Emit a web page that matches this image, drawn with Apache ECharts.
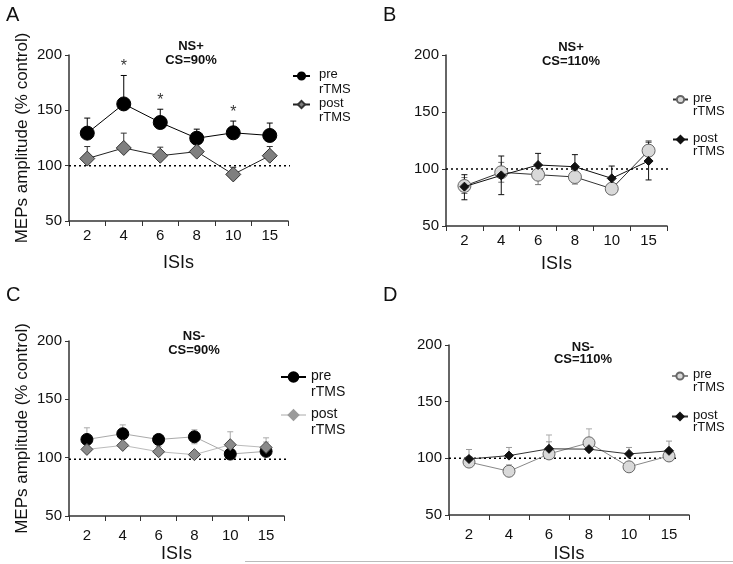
<!DOCTYPE html>
<html><head><meta charset="utf-8">
<script src="https://cdn.jsdelivr.net/npm/echarts@6/dist/echarts.min.js"></script>
<style>html,body{margin:0;padding:0;background:#fff}#c{width:733px;height:564px}</style>
</head><body><div id="c"></div>
<script>
// ---- data ----
const isiLabels = ['2', '4', '6', '8', '10', '15'];
const yMin = 50, yMax = 200, yStep = 50;

// Panel A  (NS+, CS=90%)
const aPre     = [129.4, 155.8, 139.0, 124.8, 129.7, 127.3];
const aPreHi   = [143.0, 181.5, 151.0, 133.0, 140.3, 138.5];
const aPreLo   = [null, null, null, null, null, null];
const aPost    = [106.4, 116.0, 109.0, 112.7, 92.1, 109.0];
const aPostHi  = [117.3, 129.4, 116.7, 120.0, 98.5, 117.3];
const aPostLo  = [null, null, null, null, null, null];
const aSig     = ['', '*', '*', '', '*', ''];

// Panel B  (NS+, CS=110%)
const bPre     = [85.1, 97.1, 95.0, 93.0, 82.7, 116.1];
const bPreHi   = [92.5, 105.8, 103.7, 99.2, 87.4, 124.8];
const bPreLo   = [78.5, 88.4, 86.3, 86.8, 78.0, 107.4];
const bPost    = [84.5, 94.4, 103.5, 102.0, 91.8, 107.0];
const bPostHi  = [95.0, 111.4, 113.7, 112.6, 102.6, 123.6];
const bPostLo  = [73.0, 77.5, 93.3, 91.4, 81.0, 90.4];

// Panel C  (NS-, CS=90%)
const cPre     = [115.6, 120.5, 115.6, 117.9, 103.1, 105.4];
const cPreHi   = [125.6, 128.1, 118.5, 123.9, null, 113.4];
const cPreLo   = [null, null, null, 111.9, null, null];
const cPost    = [107.1, 110.5, 105.1, 102.6, 111.1, 108.8];
const cPostHi  = [null, null, 109.5, null, 122.2, 117.0];
const cPostLo  = [null, null, null, null, null, null];

// Panel D  (NS-, CS=110%)
const dPre     = [96.7, 88.6, 103.9, 113.7, 92.5, 102.1];
const dPreHi   = [null, 94.3, 120.6, 126.0, null, null];
const dPreLo   = [null, null, null, null, null, null];
const dPost    = [99.4, 102.4, 108.4, 108.1, 103.9, 106.6];
const dPostHi  = [107.8, 109.6, 114.6, null, 109.6, 115.2];
const dPostLo  = [null, null, null, null, null, null];

const refLevel = [100, 100, 98.6, 100];
const panelTitles = ['NS+\nCS=90%', 'NS+\nCS=110%', 'NS-\nCS=90%', 'NS-\nCS=110%'];
const panelLetters = ['A', 'B', 'C', 'D'];
const yTitle = 'MEPs amplitude (% control)';
const xTitle = 'ISIs';
const legendPre = 'pre', legendPost = 'post', legendSub = 'rTMS';

// ---- layout / style ----
const FONT = "'Liberation Sans', Arial, sans-serif";
const P = [
  { grid: {left: 69, top: 55, width: 219, height: 166}, yName: true, xMargin: 7, xNameGap: 33, refEnd: 6.19,
    title: {x: 191, y: 40, lh: 13.5}, letter: {x: 6, y: 5},
    legend: {left: 292, top: 68, gap: 1, iw: 17, ih: 9, fs: 13, h1: 26, h2: 3, pad: 4},
    pre: {sym: 'circle', size: 14, fill: '#000', border: '#000', line: '#000', lw: 1},
    post: {sym: 'diamond', size: 15, fill: '#7f7f7f', border: '#333', line: '#222', lw: 1},
    errPre: '#000', errPost: '#333' },
  { grid: {left: 446, top: 55, width: 221, height: 171}, yName: false, xMargin: 7, xNameGap: 29, refEnd: 6.08,
    title: {x: 571, y: 41, lh: 13.5}, letter: {x: 383, y: 5},
    legend: {left: 672, top: 92, gap: 14, iw: 15, ih: 9, fs: 13, h1: 24, h2: 2, pad: 0},
    pre: {sym: 'circle', size: 13, fill: '#d9d9d9', border: '#666', line: '#333', lw: 1},
    post: {sym: 'diamond', size: 9, fill: '#111', border: '#111', line: '#111', lw: 1},
    errPre: '#777', errPost: '#111' },
  { grid: {left: 69, top: 341, width: 215, height: 176}, yName: true, xMargin: 12, xNameGap: 29, refEnd: 6.3,
    title: {x: 194, y: 329, lh: 14.5}, letter: {x: 6, y: 285},
    legend: {left: 280, top: 369, gap: 8, iw: 25, ih: 12, fs: 14, h1: 30, h2: 2, pad: 0},
    pre: {sym: 'circle', size: 12, fill: '#000', border: '#000', line: '#aaa', lw: 1},
    post: {sym: 'diamond', size: 12, fill: '#8a8a8a', border: '#444', line: '#bbb', lw: 1},
    errPre: '#aaa', errPost: '#aaa',
    legendLine: ['#000', '#aaa'], legendFill: ['#000', '#9a9a9a'] },
  { grid: {left: 449, top: 345, width: 240, height: 170}, yName: false, xMargin: 12, xNameGap: 30, refEnd: 5.69,
    title: {x: 583, y: 341, lh: 12}, letter: {x: 383, y: 285},
    legend: {left: 671, top: 368, gap: 15, iw: 16, ih: 9, fs: 13, h1: 22, h2: 3, pad: 0},
    pre: {sym: 'circle', size: 12, fill: '#d9d9d9', border: '#666', line: '#888', lw: 1},
    post: {sym: 'diamond', size: 9, fill: '#111', border: '#111', line: '#333', lw: 1},
    errPre: '#aaa', errPost: '#999' }
];

const DATA = [
  {pre: aPre, preHi: aPreHi, preLo: aPreLo, post: aPost, postHi: aPostHi, postLo: aPostLo},
  {pre: bPre, preHi: bPreHi, preLo: bPreLo, post: bPost, postHi: bPostHi, postLo: bPostLo},
  {pre: cPre, preHi: cPreHi, preLo: cPreLo, post: cPost, postHi: cPostHi, postLo: cPostLo},
  {pre: dPre, preHi: dPreHi, preLo: dPreLo, post: dPost, postHi: dPostHi, postLo: dPostLo}
];

function errRender(color, cap) {
  return function (params, api) {
    const x = api.value(0), m = api.value(1), lo = api.value(2), hi = api.value(3);
    const pm = api.coord([x, m]), pl = api.coord([x, lo]), ph = api.coord([x, hi]);
    const st = {stroke: color, lineWidth: 1};
    const ch = [{type: 'line', shape: {x1: pm[0], y1: pl[1], x2: pm[0], y2: ph[1]}, style: st}];
    if (hi !== m) ch.push({type: 'line', shape: {x1: pm[0] - cap, y1: ph[1], x2: pm[0] + cap, y2: ph[1]}, style: st});
    if (lo !== m) ch.push({type: 'line', shape: {x1: pm[0] - cap, y1: pl[1], x2: pm[0] + cap, y2: pl[1]}, style: st});
    return {type: 'group', children: ch};
  };
}
function errData(mean, lo, hi) {
  const out = [];
  mean.forEach((m, i) => {
    if (lo[i] == null && hi[i] == null) return;
    out.push([i, m, lo[i] == null ? m : lo[i], hi[i] == null ? m : hi[i]]);
  });
  return out;
}

const grid = [], xAxis = [], yAxis = [], series = [], legend = [], title = [];
P.forEach((p, gi) => {
  const d = DATA[gi];
  grid.push(p.grid);
  xAxis.push({
    type: 'category', gridIndex: gi, data: isiLabels,
    axisLine: {lineStyle: {color: '#333', width: 1.5}},
    axisTick: {show: true, length: 5, lineStyle: {color: '#333'}},
    axisLabel: {fontSize: 15, color: '#111', margin: p.xMargin, fontFamily: FONT},
    name: xTitle, nameLocation: 'middle', nameGap: p.xNameGap,
    nameTextStyle: {fontSize: 18, color: '#111', fontFamily: FONT},
    splitLine: {show: false}
  });
  xAxis.push({type: 'value', gridIndex: gi, min: 0, max: 6, show: false, splitLine: {show: false}});
  yAxis.push({
    type: 'value', gridIndex: gi, min: yMin, max: yMax, interval: yStep,
    axisLine: {show: true, lineStyle: {color: '#333', width: 1.5}},
    axisTick: {show: true, length: 4, lineStyle: {color: '#333'}},
    axisLabel: {fontSize: 15, color: '#111', margin: 7, fontFamily: FONT},
    splitLine: {show: false},
    name: p.yName ? yTitle : '', nameLocation: 'middle', nameGap: 38,
    nameTextStyle: {fontSize: 17, color: '#111', fontFamily: FONT}
  });
  const names = [panelLetters[gi] + '_pre', panelLetters[gi] + '_post'];
  series.push({
    type: 'line', xAxisIndex: gi * 2 + 1, yAxisIndex: gi, silent: true, clip: false,
    data: [[0, refLevel[gi]], [p.refEnd, refLevel[gi]]], symbol: 'none',
    lineStyle: {color: '#000', width: 1.5, type: [2, 3]}, z: 1
  });
  series.push({type: 'custom', xAxisIndex: gi * 2, yAxisIndex: gi, silent: true,
    data: errData(d.pre, d.preLo, d.preHi), encode: {x: 0, y: [1, 2, 3]},
    renderItem: errRender(p.errPre, 3), z: 2});
  series.push({type: 'custom', xAxisIndex: gi * 2, yAxisIndex: gi, silent: true,
    data: errData(d.post, d.postLo, d.postHi), encode: {x: 0, y: [1, 2, 3]},
    renderItem: errRender(p.errPost, 3), z: 2});
  [['pre', d.pre], ['post', d.post]].forEach(([k, vals], j) => {
    const s = p[k];
    series.push({
      type: 'line', name: names[j], xAxisIndex: gi * 2, yAxisIndex: gi, data: vals,
      symbol: s.sym, symbolSize: s.size, showSymbol: true,
      itemStyle: {color: s.fill, borderColor: s.border, borderWidth: 1},
      lineStyle: {color: s.line, width: s.lw}, z: 4 + j, emphasis: {disabled: true}
    });
  });
  if (gi === 0) {
    series.push({
      type: 'scatter', xAxisIndex: 0, yAxisIndex: 0, silent: true, symbolSize: 1,
      itemStyle: {color: 'rgba(0,0,0,0)'},
      data: aSig.map((s, i) => s ? {value: [i, aPreHi[i]], label: {formatter: s}} : null).filter(Boolean),
      label: {show: true, position: 'top', distance: 0, fontSize: 16, color: '#000', fontFamily: FONT},
      z: 6
    });
  }
  const L = p.legend;
  const legendData = names.map((n, j) => {
    const item = {name: n};
    if (p.legendLine) {
      item.lineStyle = {color: p.legendLine[j], width: j === 0 ? 2 : 1};
      item.itemStyle = {color: p.legendFill[j], borderColor: p.legendFill[j]};
    }
    return item;
  });
  legend.push({
    orient: 'vertical', left: L.left, top: L.top, itemGap: L.gap, itemWidth: L.iw, itemHeight: L.ih,
    padding: 0, selectedMode: false, data: legendData,
    formatter: n => '{a|' + (n.endsWith('_pre') ? legendPre : legendPost) + '}\n{b|' + legendSub + '}',
    textStyle: {
      fontFamily: FONT, fontSize: L.fs, color: '#111',
      rich: {
        a: {fontSize: L.fs, lineHeight: L.h1, color: '#111', fontFamily: FONT, padding: [0, 0, 0, L.pad]},
        b: {fontSize: L.fs, lineHeight: L.h2, color: '#111', fontFamily: FONT, padding: [0, 0, 0, L.pad]}
      }
    }
  });
  title.push({text: panelTitles[gi], left: p.title.x, top: p.title.y, textAlign: 'center', padding: 0,
    textStyle: {fontSize: 13, fontWeight: 'bold', color: '#111', lineHeight: p.title.lh, fontFamily: FONT}});
  title.push({text: panelLetters[gi], left: p.letter.x, top: p.letter.y, padding: 0,
    textStyle: {fontSize: 20, fontWeight: 'normal', color: '#111', fontFamily: FONT}});
});

const chart = echarts.init(document.getElementById('c'), null, {renderer: 'canvas'});
chart.setOption({
  animation: false,
  backgroundColor: '#fff',
  textStyle: {fontFamily: FONT},
  grid, xAxis, yAxis, series, legend, title,
  graphic: [{type: 'line', shape: {x1: 245, y1: 561.5, x2: 733, y2: 561.5}, style: {stroke: '#bbb', lineWidth: 1}, silent: true}]
});
</script>
</body></html>
